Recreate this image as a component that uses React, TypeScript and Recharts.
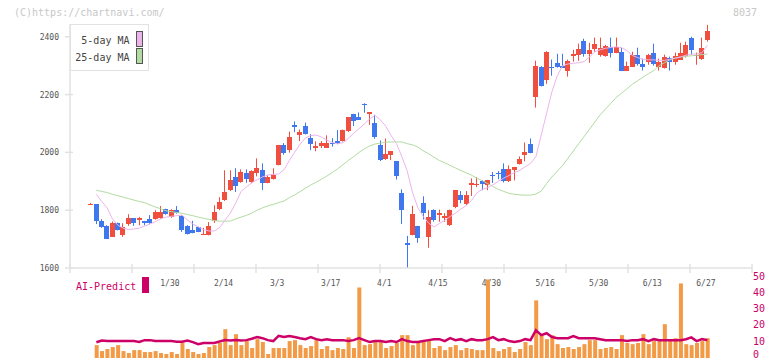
import React from 'react';
import { ComposedChart, Bar, Line, XAxis, YAxis } from 'recharts';

// trading days, index 0..115 (Jan 2025 – 6/27)
const dateLabels = ['1/30', '2/14', '3/3', '3/17', '4/1', '4/15', '4/30', '5/16', '5/30', '6/13', '6/27'];
const dateIdx = [15, 25, 35, 45, 55, 65, 75, 85, 95, 105, 115];
const priceTicks = [1600, 1800, 2000, 2200, 2400];
const volTicks = [0, 10, 20, 30, 40, 50];

const open = [
  1822, 1821, 1762, 1745, 1708, 1755, 1714, 1752, 1772, 1767,
  1762, 1769, 1769, 1772, 1803, 1776, 1800, 1779, 1745, 1731,
  1741, 1716, 1714, 1763, 1803, 1834, 1869, 1914, 1897, 1929,
  1897, 1928, 1938, 1894, 1908, 1956, 2024, 2007, 2093, 2063,
  2090, 2049, 2015, 2022, 2018, 2031, 2038, 2039, 2073, 2131,
  2124, 2169, 2132, 2100, 2024, 1976, 1990, 1969, 1859, 1685,
  1714, 1745, 1824, 1708, 1800, 1785, 1773, 1748, 1810, 1852,
  1821, 1885, 1886, 1900, 1886, 1921, 1928, 1941, 1900, 1938,
  1960, 1990, 2028, 2194, 2296, 2252, 2296, 2310, 2300, 2283,
  2335, 2338, 2386, 2341, 2359, 2338, 2334, 2366, 2345, 2348,
  2283, 2297, 2338, 2307, 2314, 2345, 2297, 2293, 2328, 2314,
  2321, 2334, 2397, 2334, 2324, 2390,
];
const high = [
  1825, 1821, 1769, 1748, 1761, 1757, 1755, 1786, 1773, 1777,
  1763, 1783, 1800, 1814, 1805, 1803, 1814, 1783, 1748, 1763,
  1743, 1739, 1759, 1817, 1845, 1938, 1938, 1945, 1941, 1941,
  1938, 1979, 1962, 1920, 1945, 2026, 2032, 2072, 2107, 2079,
  2103, 2063, 2038, 2039, 2059, 2049, 2077, 2079, 2122, 2133,
  2138, 2170, 2139, 2130, 2041, 2048, 2005, 1970, 1872, 1711,
  1815, 1746, 1848, 1800, 1803, 1802, 1790, 1802, 1870, 1866,
  1866, 1910, 1914, 1903, 1905, 1932, 1935, 1962, 1955, 1950,
  1986, 2034, 2048, 2317, 2298, 2350, 2321, 2341, 2341, 2321,
  2355, 2376, 2393, 2379, 2397, 2397, 2372, 2397, 2397, 2362,
  2314, 2348, 2362, 2324, 2341, 2376, 2324, 2338, 2331, 2345,
  2379, 2383, 2400, 2345, 2397, 2441,
];
const low = [
  1821, 1752, 1739, 1700, 1708, 1730, 1708, 1746, 1746, 1748,
  1748, 1753, 1767, 1770, 1784, 1774, 1788, 1725, 1716, 1720,
  1724, 1715, 1713, 1756, 1800, 1832, 1866, 1863, 1895, 1895,
  1893, 1917, 1870, 1893, 1906, 1955, 1992, 1999, 2070, 2039,
  2062, 2008, 2004, 2015, 2016, 2020, 2028, 2037, 2070, 2091,
  2112, 2137, 2095, 2047, 1970, 1974, 1973, 1906, 1752, 1600,
  1713, 1687, 1768, 1670, 1760, 1760, 1760, 1745, 1807, 1824,
  1818, 1849, 1880, 1869, 1869, 1894, 1907, 1896, 1897, 1903,
  1958, 1969, 1997, 2155, 2228, 2237, 2265, 2293, 2293, 2262,
  2314, 2317, 2331, 2310, 2348, 2331, 2331, 2328, 2343, 2281,
  2281, 2296, 2300, 2283, 2303, 2300, 2283, 2290, 2283, 2303,
  2321, 2328, 2338, 2303, 2320, 2383,
];
const close = [
  1823, 1763, 1742, 1700, 1755, 1732, 1741, 1772, 1756, 1773,
  1755, 1755, 1793, 1793, 1786, 1800, 1790, 1729, 1718, 1722,
  1725, 1717, 1745, 1793, 1828, 1863, 1903, 1883, 1931, 1909,
  1934, 1945, 1894, 1914, 1921, 2024, 1995, 2052, 2087, 2072,
  2063, 2029, 2021, 2031, 2034, 2028, 2030, 2077, 2121, 2108,
  2114, 2164, 2138, 2052, 1972, 1993, 2003, 1917, 1800, 1677,
  1786, 1704, 1791, 1776, 1767, 1791, 1780, 1800, 1869, 1836,
  1852, 1893, 1890, 1891, 1903, 1917, 1923, 1900, 1941, 1948,
  1976, 2000, 1998, 2300, 2231, 2348, 2293, 2297, 2294, 2317,
  2341, 2359, 2341, 2355, 2376, 2362, 2369, 2345, 2366, 2283,
  2300, 2338, 2307, 2297, 2338, 2307, 2314, 2331, 2314, 2334,
  2345, 2372, 2355, 2338, 2362, 2421,
];
const ma5 = [
  null, 1855, 1830, 1808, 1770, 1748, 1738, 1733, 1735, 1738,
  1745, 1752, 1760, 1770, 1776, 1779, 1781, 1783, 1766, 1752,
  1742, 1733, 1728, 1728, 1740, 1765, 1790, 1825, 1865, 1880,
  1895, 1905, 1915, 1922, 1924, 1925, 1940, 1972, 2000, 2028,
  2050, 2058, 2060, 2053, 2042, 2034, 2030, 2033, 2048, 2066,
  2082, 2098, 2116, 2128, 2112, 2090, 2058, 2030, 1985, 1935,
  1860, 1808, 1778, 1755, 1742, 1754, 1765, 1778, 1790, 1804,
  1816, 1834, 1860, 1872, 1878, 1888, 1900, 1911, 1920, 1930,
  1938, 1950, 1962, 1985, 2060, 2135, 2210, 2265, 2300, 2306,
  2308, 2310, 2314, 2330, 2348, 2355, 2360, 2363, 2365, 2362,
  2352, 2335, 2328, 2321, 2320, 2320, 2318, 2318, 2322, 2326,
  2330, 2336, 2340, 2340, 2345, 2370,
];
const ma25 = [
  null, 1869, 1865, 1861, 1855, 1850, 1845, 1840, 1835, 1830,
  1826, 1818, 1811, 1805, 1798, 1795, 1792, 1789, 1785, 1781,
  1776, 1772, 1768, 1764, 1762, 1762, 1762, 1770, 1776, 1782,
  1790, 1800, 1808, 1815, 1820, 1826, 1832, 1843, 1853, 1864,
  1876, 1887, 1897, 1907, 1918, 1930, 1943, 1957, 1972, 1985,
  2000, 2012, 2022, 2029, 2032, 2035, 2036, 2036, 2036, 2030,
  2026, 2018, 2005, 1995, 1983, 1972, 1964, 1955, 1946, 1937,
  1929, 1921, 1910, 1902, 1892, 1882, 1872, 1865, 1858, 1855,
  1853, 1852, 1852, 1856, 1866, 1892, 1915, 1935, 1955, 1980,
  2005, 2030, 2055, 2080, 2105, 2130, 2150, 2170, 2190, 2205,
  2220, 2236, 2248, 2260, 2272, 2283, 2300, 2310, 2320, 2326,
  2330, 2332, 2334, 2336, 2338, 2340,
];
const volume = [
  null, 8.0, 4.3, 5.6, 6.8, 8.0, 4.3, 3.1, 4.9, 4.9,
  3.7, 3.7, 4.3, 3.1, 2.5, 3.7, 2.5, 9.3, 5.6, 3.7,
  2.5, 3.1, 6.8, 8.0, 9.3, 17.9, 8.0, 14.8, 8.0, 10.5,
  6.2, 11.7, 9.9, 2.5, 6.2, 6.2, 6.2, 10.5, 11.1, 8.0,
  6.2, 7.4, 11.1, 5.6, 7.4, 4.9, 6.2, 5.6, 12.9, 6.2,
  43.8, 8.0, 8.6, 10.5, 9.9, 6.2, 7.4, 9.3, 14.2, 14.2,
  8.0, 9.5, 9.9, 10.5, 6.2, 7.4, 4.9, 6.8, 8.0, 4.9,
  6.2, 5.6, 4.9, 4.9, 48.8, 6.2, 4.3, 5.6, 6.8, 3.7,
  5.6, 9.9, 8.0, 35.8, 14.2, 11.7, 14.2, 8.6, 6.2, 6.8,
  5.6, 6.8, 8.6, 11.1, 11.1, 5.6, 6.2, 6.8, 5.6, 14.2,
  9.3, 8.6, 9.3, 14.8, 8.6, 10.5, 10.5, 21.0, 10.5, 12.3,
  46.3, 8.6, 8.0, 9.3, 10.5, 12.3,
];
const aiPredict = [
  null, 9.8, 10.9, 10.5, 10.5, 10.5, 10.5, 10.5, 10.5, 10.0,
  11.1, 11.1, 10.5, 10.5, 10.5, 10.5, 10.1, 10.1, 10.9, 9.9,
  8.6, 9.3, 9.3, 9.3, 10.2, 11.1, 10.8, 11.1, 10.8, 11.1,
  12.0, 13.0, 12.3, 11.1, 10.5, 13.8, 13.0, 13.6, 13.0, 12.3,
  11.7, 13.0, 11.7, 11.1, 11.7, 11.1, 11.1, 11.1, 10.5, 11.1,
  12.3, 11.1, 9.9, 10.5, 10.5, 9.9, 10.5, 9.9, 11.7, 10.5,
  9.9, 9.9, 10.5, 11.1, 11.7, 11.7, 10.5, 12.3, 11.1, 11.7,
  10.5, 11.7, 11.1, 11.1, 11.7, 13.0, 11.1, 11.7, 10.5, 9.9,
  10.5, 11.7, 11.1, 17.3, 14.2, 15.4, 13.0, 12.3, 12.3, 12.3,
  13.6, 12.3, 12.3, 12.3, 12.3, 11.7, 11.1, 11.1, 11.1, 11.1,
  10.5, 11.1, 11.1, 11.7, 10.5, 11.7, 11.1, 11.1, 11.1, 11.1,
  11.1, 11.7, 12.8, 10.5, 11.7, 11.1,
];

const rows = close.map((c, i) => ({
  i,
  range: [low[i], high[i]],
  open: open[i],
  close: c,
  high: high[i],
  low: low[i],
  ma5: ma5[i],
  ma25: ma25[i],
  vol: volume[i],
  ai: aiPredict[i],
}));

const X_MIN = -3.92;
const X_MAX = 123.32;
const gridTicks = Array.from({ length: 12 }, (_, k) => X_MIN + (k * (X_MAX - X_MIN)) / 11);

const UP = '#F04E3E';
const DOWN = '#3F77EE';
const MONO = "'DejaVu Sans Mono', monospace";
const AXIS = '#e2e2e2';

const Candle = (props: any) => {
  const { x, y, width, height, payload } = props;
  if (x == null || y == null) return null;
  const { open: o, close: c, high: h, low: l } = payload;
  const k = h === l ? 0 : height / (h - l);
  const color = c >= o ? UP : DOWN;
  const left = Math.round(x);
  const cx = left + Math.floor(width / 2) + 0.5;
  const top = Math.round(y + (h - Math.max(o, c)) * k);
  const bh = Math.max(1, Math.round(Math.abs(o - c) * k));
  return (
    <g>
      <line x1={cx} x2={cx} y1={y} y2={y + height} stroke={color} strokeWidth={1} />
      <rect x={left} y={top} width={width} height={bh} fill={color} />
    </g>
  );
};

const PriceTick = (props: any) => {
  const { x, y, payload } = props;
  return (
    <g>
      <line x1={x - 5} x2={x + 3} y1={y} y2={y} stroke={AXIS} strokeWidth={1.5} />
      <text x={x - 11} y={y + 3} textAnchor="end" fontSize={8} fontFamily={MONO} fill="#555">
        {payload.value}
      </text>
    </g>
  );
};

const DateTick = (props: any) => {
  const { x, y, payload } = props;
  const n = dateIdx.indexOf(payload.value);
  if (n >= 0) {
    return (
      <text x={x - 1.5} y={y + 17.5} textAnchor="middle" fontSize={8} fontFamily={MONO} fill="#555">
        {dateLabels[n]}
      </text>
    );
  }
  return <line x1={x} x2={x} y1={y - 4} y2={y + 5} stroke={AXIS} strokeWidth={1.5} />;
};

const VolTick = (props: any) => {
  const { x, y, payload } = props;
  // keep the bottom "0" inside the picture
  const dy = payload.value === 0 ? 0.3 : 2.6;
  return (
    <text x={x + 1} y={y + dy} textAnchor="start" fontSize={10} fontFamily={MONO} fill="#CC0066">
      {payload.value}
    </text>
  );
};

export default function App() {
  return (
    <div style={{ position: 'absolute', left: 0, top: 0, width: 772, height: 361, background: '#fff' }}>
      <div style={{ position: 'absolute', left: 0, top: 0 }}>
        <ComposedChart width={772} height={361} data={rows} margin={{ top: 24, right: 20, bottom: 63, left: 10 }}>
          <XAxis
            type="number"
            dataKey="i"
            domain={[X_MIN, X_MAX]}
            allowDataOverflow
            ticks={[...gridTicks, ...dateIdx]}
            interval={0}
            tick={<DateTick />}
            tickLine={false}
            tickSize={0}
            tickMargin={0}
            height={30}
            axisLine={{ stroke: AXIS, strokeWidth: 1.5 }}
          />
          <YAxis
            domain={[1600, 2444]}
            allowDataOverflow
            ticks={priceTicks}
            interval={0}
            width={60}
            tick={<PriceTick />}
            tickLine={false}
            tickSize={0}
            tickMargin={0}
            axisLine={{ stroke: AXIS, strokeWidth: 1.5 }}
          />
          <Line dataKey="ma25" stroke="#B2DBA2" strokeWidth={1} dot={false} isAnimationActive={false} />
          <Line dataKey="ma5" stroke="#EDB4EC" strokeWidth={1} dot={false} isAnimationActive={false} />
          <Bar dataKey="range" barSize={5} shape={<Candle />} isAnimationActive={false} />
        </ComposedChart>
      </div>
      <div style={{ position: 'absolute', left: 0, top: 0 }}>
        <ComposedChart width={772} height={361} data={rows} margin={{ top: 277.5, right: 0, bottom: 3, left: 70 }}>
          <XAxis type="number" dataKey="i" domain={[X_MIN, X_MAX]} allowDataOverflow hide />
          <YAxis
            yAxisId="v"
            orientation="right"
            domain={[0, 50]}
            ticks={volTicks}
            interval={0}
            width={20}
            tick={<VolTick />}
            tickLine={false}
            tickSize={0}
            tickMargin={0}
            axisLine={false}
          />
          <Bar yAxisId="v" dataKey="vol" barSize={4} fill="#F29A45" isAnimationActive={false} />
          <Line
            yAxisId="v"
            dataKey="ai"
            stroke="#CC0066"
            strokeWidth={2.5}
            dot={false}
            isAnimationActive={false}
          />
        </ComposedChart>
      </div>
      <svg width={772} height={361} style={{ position: 'absolute', left: 0, top: 0, pointerEvents: 'none' }}>
        <text x={14} y={15.5} fontSize={10} fontFamily={MONO} fill="#c8c8c8">
          (C)https://chartnavi.com/
        </text>
        <text x={757} y={15.5} textAnchor="end" fontSize={10} fontFamily={MONO} fill="#c8c8c8">
          8037
        </text>
        <rect x={70.5} y={24.5} width={78} height={46} fill="#fff" stroke={AXIS} strokeWidth={1} />
        <text x={129.5} y={43.5} textAnchor="end" fontSize={10} fontFamily={MONO} fill="#444">
          5-day MA
        </text>
        <text x={129.5} y={61} textAnchor="end" fontSize={10} fontFamily={MONO} fill="#444">
          25-day MA
        </text>
        <rect x={136.5} y={31.5} width={6} height={15} fill="#EDB4EC" stroke="#555" strokeWidth={1} />
        <rect x={136.5} y={48.5} width={6} height={15} fill="#B2DBA2" stroke="#555" strokeWidth={1} />
        <text x={76} y={290} fontSize={10} fontFamily={MONO} fill="#CC0066">
          AI-Predict
        </text>
        <rect x={142} y={277} width={7} height={16} fill="#CC0066" />
      </svg>
    </div>
  );
}
